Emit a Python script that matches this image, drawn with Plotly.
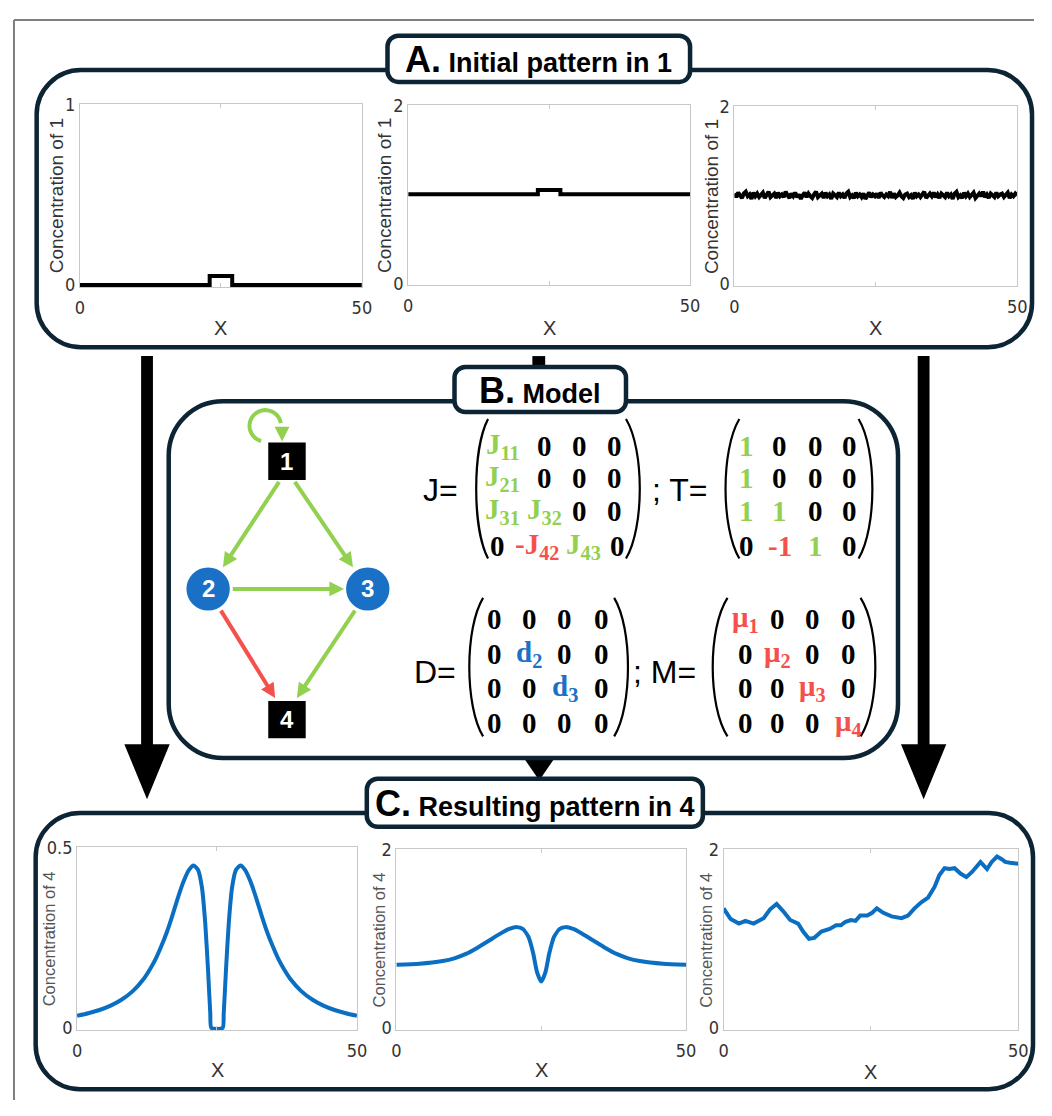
import numpy as np
import plotly.graph_objects as go

# reference canvas is 1052x1116; the page body keeps an 8px margin, so the figure is 16px smaller
REF_W, REF_H = 1052, 1116
OFF = 8
W, H = REF_W - 2 * OFF, REF_H - 2 * OFF

# ---------------- data ----------------
x_ticks = [0, 25, 50]
x_tick_text = ["0", "", "50"]

a1_x = [0, 23, 23, 27, 27, 50]
a1_y = [0, 0, 0.05, 0.05, 0, 0]

a2_x = [0, 23, 23, 27, 27, 50]
a2_y = [1, 1, 1.05, 1.05, 1, 1]

a3_y = [1.02, 0.98, 1.03, 1.00, 0.97, 1.02, 1.04, 0.99, 1.01, 0.96, 1.03, 0.99, 1.02, 0.98, 1.00,
        1.03, 0.97, 1.01, 1.04, 0.98, 1.00, 1.02, 0.97, 1.03, 0.99, 1.01, 0.98, 1.04, 1.00, 0.97,
        1.02, 0.99, 1.03, 0.98, 1.01, 0.96, 1.00, 1.03, 0.98, 1.02, 0.99, 0.97, 1.01, 1.04, 0.98,
        1.00, 1.02, 0.97, 1.03, 0.99, 1.01, 0.96, 1.02, 1.00, 0.98, 1.03, 0.99, 1.01, 0.97, 1.02,
        1.04, 0.98, 1.00, 0.97, 1.03, 0.99, 1.01, 0.98, 1.02, 0.96, 1.00, 1.03, 0.98, 1.01, 0.99,
        1.02, 0.97, 1.03, 1.00, 0.98, 1.01, 0.99, 1.04, 0.97, 1.02, 0.98, 1.00, 1.03, 0.99, 0.97,
        1.01, 1.02, 0.98, 1.00, 0.96, 1.03, 0.99, 1.01, 0.98, 1.02, 1.04, 0.97, 1.00, 1.02, 0.99,
        1.03, 0.98, 1.01, 0.97, 1.02, 1.00, 0.98, 1.03, 0.99, 1.01, 0.96, 1.02, 1.04, 0.98, 1.00,
        0.97, 1.03, 0.99, 1.02, 0.98, 1.01, 1.03, 0.97, 1.00, 1.02, 0.99, 1.04, 0.98, 1.01, 0.97,
        1.02, 1.00, 0.98, 1.03, 0.99, 1.01, 1.02, 0.98, 1.00, 1.03, 0.97, 1.01, 0.99, 1.02, 1.00]
a3_x = list(np.linspace(0, 50, len(a3_y)))

c1_x = [0, 2, 4, 6, 8, 10, 12, 13, 14, 15, 16, 17, 18, 19, 20, 20.8, 21.6, 22.3, 22.9, 23.4, 23.8, 24.0,
        26.0, 26.2, 26.6, 27.1, 27.7, 28.4, 29.2, 30, 31, 32, 33, 34, 35, 36, 37, 38, 40, 42, 44, 46, 48, 50]
c1_y = [0.034, 0.041, 0.050, 0.062, 0.079, 0.103, 0.138, 0.162, 0.190, 0.225, 0.264, 0.310, 0.360, 0.405,
        0.438, 0.450, 0.438, 0.390, 0.290, 0.160, 0.040, 0.0,
        0.0, 0.040, 0.160, 0.290, 0.390, 0.438, 0.450, 0.438, 0.405, 0.360, 0.310, 0.264, 0.225, 0.190,
        0.162, 0.138, 0.103, 0.079, 0.062, 0.050, 0.041, 0.034]

c2_x = [0, 4, 8, 10, 12, 14, 16, 18, 19.5, 20.8, 21.8, 22.8, 23.6, 24.3, 25, 25.7, 26.4, 27.2, 28.2,
        29.2, 30.5, 32, 34, 36, 38, 40, 42, 46, 50]
c2_y = [0.71, 0.72, 0.75, 0.78, 0.83, 0.90, 0.98, 1.06, 1.11, 1.13, 1.11, 1.02, 0.84, 0.62, 0.52, 0.62,
        0.84, 1.02, 1.11, 1.13, 1.11, 1.06, 0.98, 0.90, 0.83, 0.78, 0.75, 0.72, 0.71]

c3_x = [0, 1.2, 2.6, 3.7, 5.1, 6.8, 7.9, 9.0, 10.1, 11.3, 12.65, 13.5, 14.5, 15.4, 16.6, 18.0, 19.1,
        19.9, 20.7, 21.6, 22.4, 23.2, 24.4, 25.2, 26.0, 27.1, 28.5, 30.2, 31.3, 32.4, 33.6, 34.7, 35.8,
        36.6, 37.5, 38.3, 39.2, 40.2, 41.2, 42.2, 43.6, 44.7, 45.5, 46.4, 47.2, 47.8, 48.6, 50]
c3_y = [1.34, 1.22, 1.17, 1.20, 1.17, 1.23, 1.33, 1.39, 1.31, 1.21, 1.17, 1.08, 1.00, 1.01, 1.08, 1.11,
        1.15, 1.15, 1.19, 1.21, 1.20, 1.26, 1.26, 1.29, 1.34, 1.29, 1.25, 1.23, 1.26, 1.34, 1.41, 1.46,
        1.58, 1.71, 1.79, 1.78, 1.79, 1.73, 1.69, 1.75, 1.86, 1.78, 1.86, 1.92, 1.89, 1.86, 1.85, 1.84]

y_max = [1, 2, 2, 0.5, 2, 2]
y_tick_text = [["0", "1"], ["0", "2"], ["0", "2"], ["0", "0.5"], ["0", "2"], ["0", "2"]]

# ---------------- layout geometry (reference pixel coordinates) ----------------
plots = [  # x0, x1, y0(top), y1(bottom)
    (76, 362, 95, 281), (409, 695, 96, 279), (740, 1027, 97, 280),
    (73, 357, 851, 1037), (397, 691, 853, 1037), (729, 1028, 853, 1037),
]

BLACK = "#000000"
BLUE_LINE = "#0a6fc2"
GREEN = "#92d050"
RED = "#f5504b"
BLUE = "#1a70c4"
NAVY = "#0c2433"
NARROW = "Liberation Sans Narrow, Arial Narrow, DejaVu Sans Condensed, sans-serif"
SANS = "Liberation Sans, Arial, sans-serif"
SERIF = "Liberation Serif, Times New Roman, serif"


def px(x):
    return (x - OFF) / W


def py(y):
    return 1 - (y - OFF) / H


def P(x, y):
    return f"{px(x):.5f},{py(y):.5f}"


def rrect_path(x0, y0, x1, y1, r):
    k = 0.5523 * r
    return (f"M {P(x0 + r, y0)} L {P(x1 - r, y0)} C {P(x1 - r + k, y0)} {P(x1, y0 + r - k)} {P(x1, y0 + r)} "
            f"L {P(x1, y1 - r)} C {P(x1, y1 - r + k)} {P(x1 - r + k, y1)} {P(x1 - r, y1)} "
            f"L {P(x0 + r, y1)} C {P(x0 + r - k, y1)} {P(x0, y1 - r + k)} {P(x0, y1 - r)} "
            f"L {P(x0, y0 + r)} C {P(x0, y0 + r - k)} {P(x0 + r - k, y0)} {P(x0 + r, y0)} Z")


fig = go.Figure()

series = [(a1_x, a1_y, BLACK), (a2_x, a2_y, BLACK), (a3_x, a3_y, BLACK),
          (c1_x, c1_y, BLUE_LINE), (c2_x, c2_y, BLUE_LINE), (c3_x, c3_y, BLUE_LINE)]

for i, ((xs, ys, col), (x0, x1, y0, y1), ym, ytt) in enumerate(zip(series, plots, y_max, y_tick_text)):
    n = i + 1
    sfx = "" if n == 1 else str(n)
    shape = "spline" if i in (3, 4) else "linear"
    fig.add_trace(go.Scatter(x=xs, y=ys, mode="lines",
                             line=dict(color=col, width=4, shape=shape, smoothing=0.6),
                             xaxis="x" + sfx, yaxis="y" + sfx, showlegend=False, hoverinfo="skip"))
    pad = ym * 0.012
    fig.update_layout(**{
        "xaxis" + sfx: dict(domain=[px(x0), px(x1)], anchor="y" + sfx, range=[0, 50],
                            tickvals=x_ticks, ticktext=x_tick_text, ticks="inside", ticklen=4,
                            tickcolor="#c8c8c8", showline=True, mirror="ticks", linecolor="#c8c8c8",
                            linewidth=1, showgrid=False, zeroline=False,
                            tickfont=dict(family=NARROW, size=18, color="#333333"),
                            ticklabelstandoff=4),
        "yaxis" + sfx: dict(domain=[py(y1), py(y0)], anchor="x" + sfx, range=[-pad, ym],
                            tickvals=[0, ym], ticktext=ytt, ticks="", showline=True, mirror=True,
                            linecolor="#c8c8c8", linewidth=1, showgrid=False, zeroline=False,
                            tickfont=dict(family=NARROW, size=18, color="#333333")),
    })

shapes = []
annotations = []


def note(x, y, text, font, angle=0):
    annotations.append(dict(x=px(x), y=py(y), xref="paper", yref="paper", text=text, showarrow=False,
                            textangle=angle, xanchor="center", yanchor="middle", font=font))


# outer gray frame (left & top)
shapes.append(dict(type="line", xref="paper", yref="paper", x0=px(9), y0=py(9), x1=px(9), y1=0,
                   line=dict(color="#7f7f7f", width=2)))
shapes.append(dict(type="line", xref="paper", yref="paper", x0=px(9), y0=py(9), x1=1, y1=py(9),
                   line=dict(color="#7f7f7f", width=2)))


def add_path(path, line_color=None, width=0, fill=None):
    d = dict(type="path", xref="paper", yref="paper", path=path, layer="above")
    d["line"] = dict(color=line_color or "rgba(0,0,0,0)", width=width)
    if fill:
        d["fillcolor"] = fill
    shapes.append(d)


def tri(p1, p2, p3, color):
    add_path(f"M {P(*p1)} L {P(*p2)} L {P(*p3)} Z", fill=color)


def rect(x0, y0, x1, y1, color):
    add_path(f"M {P(x0, y0)} L {P(x1, y0)} L {P(x1, y1)} L {P(x0, y1)} Z", fill=color)


def arrow(x0, y0, x1, y1, color, width=4, hl=15, hw=15):
    dx, dy = x1 - x0, y1 - y0
    L = (dx * dx + dy * dy) ** 0.5
    ux, uy = dx / L, dy / L
    bx, by = x1 - ux * hl, y1 - uy * hl
    shapes.append(dict(type="line", xref="paper", yref="paper", x0=px(x0), y0=py(y0),
                       x1=px(bx + ux * 2), y1=py(by + uy * 2), line=dict(color=color, width=width),
                       layer="above"))
    nx, ny = -uy, ux
    tri((x1, y1), (bx + nx * hw / 2, by + ny * hw / 2), (bx - nx * hw / 2, by - ny * hw / 2), color)


# big black flow arrows
rect(138, 351, 150, 747, BLACK)
tri((121, 746), (167, 746), (144, 802), BLACK)
rect(926, 351, 938, 747, BLACK)
tri((909, 746), (955, 746), (932, 802), BLACK)
rect(535, 351, 548, 364, BLACK)
tri((525, 758), (559, 758), (542, 783), BLACK)

# panels
for (x0, y0, x1, y1, r) in [(32, 60, 1042, 342, 45), (166, 397, 906, 760, 55), (31, 816, 1043, 1097, 45)]:
    add_path(rrect_path(x0, y0, x1, y1, r), line_color=NAVY, width=4.5)

titles = [((388, 25, 695, 72), "A.", "Initial pattern in 1"),
          ((456, 362, 630, 408), "B.", "Model"),
          ((367, 781, 708, 830), "C.", "Resulting pattern in 4")]
for (x0, y0, x1, y1), lab, txt in titles:
    add_path(rrect_path(x0, y0, x1, y1, 11), line_color=NAVY, width=4.5, fill="white")
    note((x0 + x1) / 2, (y0 + y1) / 2 + 1,
         f"<b><span style='font-size:36px'>{lab}</span> {txt}</b>",
         dict(family=SANS, size=27, color="black"))

# axis titles
for (x0, x1, y0, y1), lx in zip(plots[:3], [53, 385, 717]):
    note(lx, (y0 + y1) / 2, "Concentration of 1", dict(family=SANS, size=19, color="#333333"), -90)
    note((x0 + x1) / 2, 322, "X", dict(family=SANS, size=20, color="#333333"))
for (x0, x1, y0, y1), lx, ly in zip(plots[3:], [44, 379, 711], [1077, 1077, 1080]):
    note(lx, (y0 + y1) / 2, "Concentration of 4", dict(family=SANS, size=16.5, color="#555555"), -90)
    note((x0 + x1) / 2, ly, "X", dict(family=SANS, size=20, color="#333333"))

# ---------------- network diagram ----------------
arrow(278, 479, 221, 566, GREEN)
arrow(294, 479, 353, 566, GREEN)
arrow(231, 588, 344, 588, GREEN)
arrow(355, 610, 296, 699, GREEN)
arrow(219, 610, 274, 699, RED)

# self loop
cx, cy, r = 264, 422, 16
angs = np.radians(np.linspace(105, 350, 40))
pts = [(cx + r * np.cos(a), cy + r * np.sin(a)) for a in angs]
add_path("M " + " L ".join(P(x, y) for x, y in pts), line_color=GREEN, width=4)
tri((281, 438), (273.5, 423), (288.5, 423), GREEN)

rect(267, 439, 305, 477, BLACK)
rect(267, 702, 305, 740, BLACK)
for (ccx, ccy) in [(206, 588), (368, 588)]:
    shapes.append(dict(type="circle", xref="paper", yref="paper", x0=px(ccx - 23), x1=px(ccx + 23),
                       y0=py(ccy + 23), y1=py(ccy - 23), fillcolor=BLUE, line=dict(color="white", width=2),
                       layer="above"))
for (tx, ty, t) in [(286, 458, "1"), (206, 588, "2"), (368, 588, "3"), (286, 721, "4")]:
    note(tx, ty, f"<b>{t}</b>", dict(family=SANS, size=24, color="white"))


# ---------------- matrices ----------------
def paren(xo, xe, ytop, ybot):
    xl = (xe - 0.25 * xo) / 0.75
    h = ybot - ytop
    add_path(f"M {P(xo, ytop)} C {P(xl, ytop + 0.22 * h)} {P(xl, ybot - 0.22 * h)} {P(xo, ybot)}",
             line_color="black", width=2.2)


G, R_, B_, K = GREEN, RED, "#1a70c4", "black"
J_cells = [[("J<sub>11</sub>", G), ("0", K), ("0", K), ("0", K)],
           [("J<sub>21</sub>", G), ("0", K), ("0", K), ("0", K)],
           [("J<sub>31</sub>", G), ("J<sub>32</sub>", G), ("0", K), ("0", K)],
           [("0", K), ("-J<sub>42</sub>", R_), ("J<sub>43</sub>", G), ("0", K)]]
T_cells = [[("1", G), ("0", K), ("0", K), ("0", K)],
           [("1", G), ("0", K), ("0", K), ("0", K)],
           [("1", G), ("1", G), ("0", K), ("0", K)],
           [("0", K), ("-1", R_), ("1", G), ("0", K)]]
D_cells = [[("0", K), ("0", K), ("0", K), ("0", K)],
           [("0", K), ("d<sub>2</sub>", B_), ("0", K), ("0", K)],
           [("0", K), ("0", K), ("d<sub>3</sub>", B_), ("0", K)],
           [("0", K), ("0", K), ("0", K), ("0", K)]]
M_cells = [[("μ<sub>1</sub>", R_), ("0", K), ("0", K), ("0", K)],
           [("0", K), ("μ<sub>2</sub>", R_), ("0", K), ("0", K)],
           [("0", K), ("0", K), ("μ<sub>3</sub>", R_), ("0", K)],
           [("0", K), ("0", K), ("0", K), ("μ<sub>4</sub>", R_)]]

mats = [
    (J_cells, [[505, 547, 583, 618]] * 3 + [[500, 540, 587, 621]], [442, 475, 509, 544],
     (490, 478, 630, 644, 415, 557)),
    (T_cells, [[752, 786, 822, 857]] * 4, [442, 475, 509, 544], (745, 731, 866, 880, 415, 557)),
    (D_cells, [[497, 532, 568, 605]] * 4, [619, 654, 689, 724], (485, 471, 618, 632, 597, 738)),
    (M_cells, [[751, 784, 819, 856]] * 4, [619, 654, 689, 724], (733, 718, 868, 883, 597, 738)),
]
for cells, xrows, ys, (lo, le, ro, re, yt, yb) in mats:
    paren(lo, le, yt, yb)
    paren(ro, re, yt, yb)
    for r_i, row in enumerate(cells):
        for c_i, (t, col) in enumerate(row):
            note(xrows[r_i][c_i], ys[r_i], f"<b>{t}</b>", dict(family=SERIF, size=29, color=col))

for tx, ty, t in [(442, 487, "J="), (684, 487, "; T="), (436, 672, "D="), (669, 672, "; M=")]:
    note(tx, ty, t, dict(family=SANS, size=32, color="black"))

fig.update_layout(width=W, height=H, margin=dict(l=0, r=0, t=0, b=0), paper_bgcolor="white",
                  plot_bgcolor="white", shapes=shapes, annotations=annotations, showlegend=False)

fig.write_html("out.html", config={"displayModeBar": False})
